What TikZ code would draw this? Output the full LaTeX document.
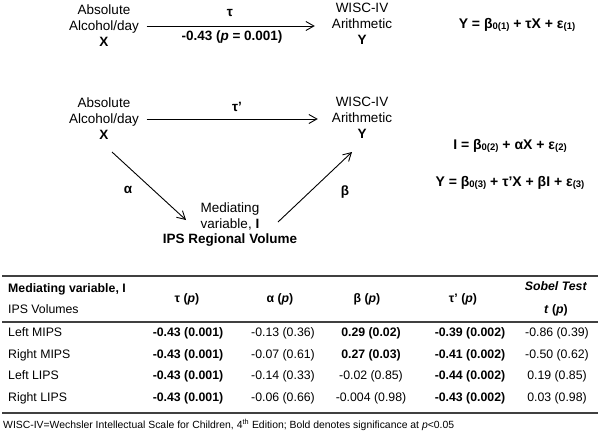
\documentclass[tikz,border=0pt]{standalone}
\usepackage{fontspec}
\setmainfont{Liberation Sans}
\usetikzlibrary{arrows.meta}
\newcommand\eqsub[1]{\raisebox{-1.5pt}{\fontsize{9.5}{10}\selectfont #1}}
\begin{document}
\begin{tikzpicture}[x=1pt,y=-1pt,
  dtext/.style={font=\fontsize{13.5}{16}\selectfont, inner sep=0pt, align=center},
  lab/.style={font=\fontsize{13.5}{16}\selectfont\bfseries, inner sep=0pt},
  eqn/.style={font=\fontsize{14}{16}\selectfont\bfseries, inner sep=0pt},
  arr/.style={-{Straight Barb[length=8pt,width=9pt]}, line width=0.9pt},
  cell/.style={font=\fontsize{12.3}{14}\selectfont, inner sep=0pt, anchor=base},
  hcell/.style={cell, font=\fontsize{12.3}{14}\selectfont\bfseries},
  rowlab/.style={cell, anchor=base west},
  rulethick/.style={line width=2pt, draw=black!75},
  rulemid/.style={line width=1.6pt, draw=black!75},
]
\fill[white] (0,0) rectangle (600,432);
\useasboundingbox (0,0) rectangle (600,432);

% --- total effect model ---
\node[dtext] (X1) at (104,26) {Absolute\\Alcohol/day\\\textbf{X}};
\node[dtext] (Y1) at (362,24) {WISC-IV\\Arithmetic\\\textbf{Y}};
\draw[arr, shorten <=7.5pt, shorten >=17pt] (X1.east) -- (X1.east -| Y1.west);
\node[lab] (tau) at (230,13) {τ};
\node[lab] (tauv) at (232,37) {-0.43 (\textit{p} = 0.001)};
\node[eqn] (eq1) at (517,25) {Y = β\eqsub{0(1)} + τX + ε\eqsub{(1)}};

% --- mediation model ---
\node[dtext] (X2) at (104,119) {Absolute\\Alcohol/day\\\textbf{X}};
\node[dtext] (Y2) at (362,118) {WISC-IV\\Arithmetic\\\textbf{Y}};
\draw[arr, shorten <=7.5pt, shorten >=14pt] (X2.east) -- (X2.east -| Y2.west);
\node[lab] (taup) at (237,107) {τ'};
\node[dtext] (med) at (230,216) {Mediating\\variable, \textbf{I}};
\node[lab] (ips) at (230,240) {IPS Regional Volume};
\coordinate (aS) at (112,152);
\coordinate (aE) at (186,220);
\coordinate (bS) at (278,222);
\coordinate (bE) at (352,152);
\draw[arr] (aS) -- (aE);
\draw[arr] (bS) -- (bE);
\node[lab] (alpha) at (128,190) {α};
\node[lab] (beta) at (345,192) {β};
\node[eqn] (eq2) at (510,146) {I = β\eqsub{0(2)} + αX + ε\eqsub{(2)}};
\node[eqn] (eq3) at (510,183) {Y = β\eqsub{0(3)} + τ'X + βI + ε\eqsub{(3)}};

% --- table ---
\draw[rulethick] (2,276) -- (598,276);
\draw[rulemid] (2,322) -- (598,322);
\draw[rulethick] (2,413) -- (598,413);

\node[rowlab, font=\fontsize{12.3}{14}\selectfont\bfseries] (h1) at (8,292.5) {Mediating variable, I};
\node[rowlab] (h2) at (8,313.5) {IPS Volumes};
\node[hcell] (h3) at (187,302.5) {τ (\textit{p})};
\node[hcell] (h4) at (280,302.5) {α (\textit{p})};
\node[hcell] (h5) at (367,302.5) {β (\textit{p})};
\node[hcell] (h6) at (463,302.5) {τ' (\textit{p})};
\node[hcell] (h7) at (556,290.5) {\textit{Sobel Test}};
\node[hcell] (h8) at (556,313.5) {\textit{t} (\textit{p})};

\foreach \lab/\va/\vb/\vc/\vd/\ve [count=\i] in {
  Left MIPS/{\textbf{-0.43 (0.001)}}/{-0.13 (0.36)}/{\textbf{0.29 (0.02)}}/{\textbf{-0.39 (0.002)}}/{-0.86 (0.39)},
  Right MIPS/{\textbf{-0.43 (0.001)}}/{-0.07 (0.61)}/{\textbf{0.27 (0.03)}}/{\textbf{-0.41 (0.002)}}/{-0.50 (0.62)},
  Left LIPS/{\textbf{-0.43 (0.001)}}/{-0.14 (0.33)}/{-0.02 (0.85)}/{\textbf{-0.44 (0.002)}}/{0.19 (0.85)},
  Right LIPS/{\textbf{-0.43 (0.001)}}/{-0.06 (0.66)}/{-0.004 (0.98)}/{\textbf{-0.43 (0.002)}}/{0.03 (0.98)}}
{
  \pgfmathsetmacro\yy{336.5+21.7*(\i-1)}
  \node[rowlab] (r\i-0) at (8,\yy) {\lab};
  \node[cell] (r\i-1) at (188,\yy) {\va};
  \node[cell] (r\i-2) at (283,\yy) {\vb};
  \node[cell] (r\i-3) at (371,\yy) {\vc};
  \node[cell] (r\i-4) at (470,\yy) {\vd};
  \node[cell] (r\i-5) at (557,\yy) {\ve};
}

\node[anchor=base west, font=\fontsize{10.4}{12}\selectfont, inner sep=0pt] (fn) at (3,428.5)
  {WISC-IV=Wechsler Intellectual Scale for Children, 4\textsuperscript{th} Edition; Bold denotes significance at \textit{p}<0.05};
\end{tikzpicture}
\end{document}
